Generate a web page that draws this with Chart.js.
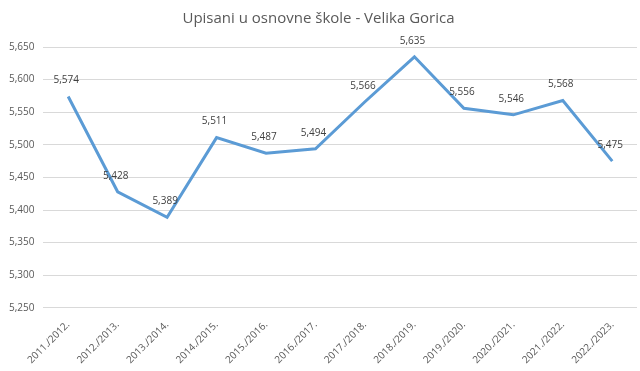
<!DOCTYPE html>
<html>
<head>
<meta charset="utf-8">
<script src="https://cdn.jsdelivr.net/npm/chart.js@4.4.0/dist/chart.umd.min.js"></script>
<style>
html,body{margin:0;padding:0;background:#fff;}
#wrap{width:640px;height:371px;position:relative;}
</style>
</head>
<body>
<div id="wrap"><canvas id="c" width="640" height="371"></canvas></div>
<script>
const categories = ["2011./2012.","2012./2013.","2013./2014.","2014./2015.","2015./2016.","2016./2017.","2017./2018.","2018./2019.","2019./2020.","2020./2021.","2021./2022.","2022./2023."];
const enrolled = [5574,5428,5389,5511,5487,5494,5566,5635,5556,5546,5568,5475];
const yMin = 5250, yMax = 5650, yStep = 50;
const titleText = "Upisani u osnovne škole - Velika Gorica";

const fmt = v => v.toLocaleString('en-US');

const labelPlugin = {
  id: 'pointLabels',
  afterDatasetsDraw(chart) {
    const ctx = chart.ctx;
    const meta = chart.getDatasetMeta(0);
    ctx.save();
    ctx.font = '10px "Open Sans", sans-serif';
    ctx.fillStyle = '#404040';
    ctx.textAlign = 'center';
    ctx.textBaseline = 'middle';
    meta.data.forEach((pt, i) => {
      ctx.fillText(fmt(chart.data.datasets[0].data[i]), pt.x - 2, pt.y - 16);
    });
    ctx.restore();
  }
};

new Chart(document.getElementById('c'), {
  type: 'line',
  data: {
    labels: categories,
    datasets: [{
      data: enrolled,
      borderColor: '#5b9bd5',
      borderWidth: 3,
      pointRadius: 0,
      tension: 0,
      fill: false
    }]
  },
  options: {
    responsive: false,
    animation: false,
    layout: { padding: { left: 0, right: 3, top: 8, bottom: 2 } },
    plugins: {
      legend: { display: false },
      tooltip: { enabled: false },
      title: {
        display: true,
        text: titleText,
        color: '#595959',
        font: { family: '"Open Sans", sans-serif', size: 15, weight: 'normal' },
        padding: { top: 2, bottom: 19 }
      }
    },
    scales: {
      x: {
        offset: true,
        grid: { display: false },
        border: { display: false },
        ticks: {
          color: '#595959',
          font: { family: '"Open Sans", sans-serif', size: 10 },
          maxRotation: 45, minRotation: 45,
          padding: 3
        }
      },
      y: {
        min: yMin, max: yMax,
        grid: { color: '#d9d9d9', lineWidth: 1, drawTicks: false },
        border: { display: false },
        ticks: {
          stepSize: yStep,
          color: '#595959',
          font: { family: '"Open Sans", sans-serif', size: 10 },
          padding: 9,
          callback: v => fmt(v)
        }
      }
    }
  },
  plugins: [labelPlugin]
});
</script>
</body>
</html>
